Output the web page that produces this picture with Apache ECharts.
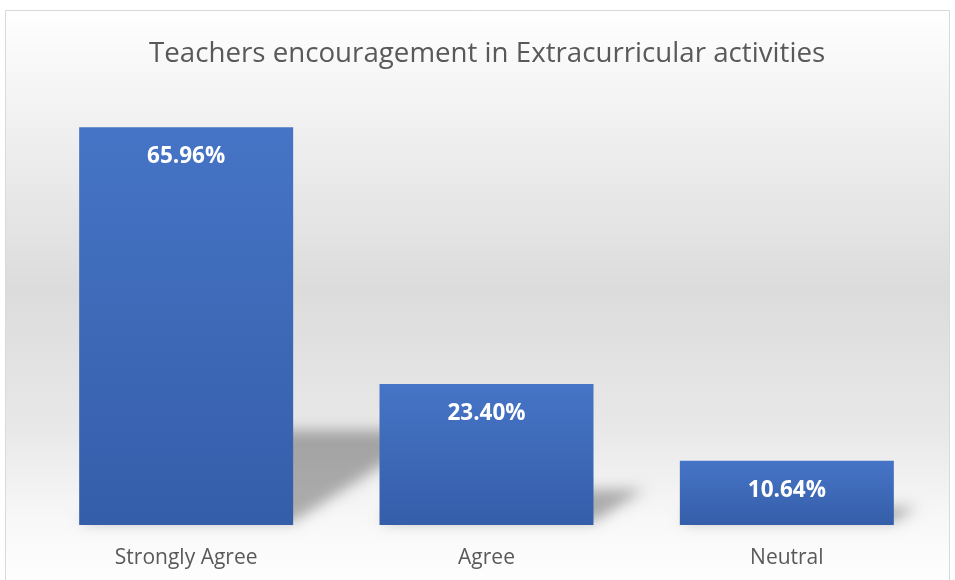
<!DOCTYPE html>
<html>
<head>
<meta charset="utf-8">
<script src="https://cdn.jsdelivr.net/npm/echarts@6/dist/echarts.min.js"></script>
<style>
  html, body { margin: 0; padding: 0; background: #fff; }
  #chart { width: 955px; height: 580px; }
</style>
</head>
<body>
<div id="chart"></div>
<script>
// Teachers encouragement in Extracurricular activities — percentage bars
const categories = ["Strongly Agree", "Agree", "Neutral"];
const percents = [65.96, 23.40, 10.64];
const axisMax = 70;

const chart = echarts.init(document.getElementById("chart"));

// floor shadow behind each bar, projected up-right from the bar base.
// The polygon itself sits off-canvas; only its blurred canvas shadow is shifted back in.
const OFF = 2000;
function shadowItem(params, api) {
  const idx = api.value(0);
  const val = api.value(1);
  const base = api.coord([idx, 0]);
  const top = api.coord([idx, val]);
  const half = 107;
  const h = base[1] - top[1];
  const rise = h * 0.23, run = h * 0.36;
  const x0 = base[0] - half, x1 = base[0] + half, y = base[1] - 3 - OFF;
  return {
    type: "polygon",
    shape: { points: [[x0, y], [x1, y], [x1 + run, y - rise], [x0 + run, y - rise]] },
    style: {
      fill: "#000",
      shadowBlur: 14,
      shadowOffsetY: OFF,
      shadowColor: "rgba(0,0,0,0.3)"
    }
  };
}

chart.setOption({
  animation: false,
  backgroundColor: "#fff",
  graphic: [{
    type: "rect",
    z: -10,
    shape: { x: 5.5, y: 10.5, width: 944, height: 580 },
    style: {
      stroke: "#d9d9d9",
      lineWidth: 1,
      fill: new echarts.graphic.LinearGradient(0, 0, 0, 1, [
        { offset: 0, color: "#ffffff" },
        { offset: 0.12, color: "#f6f6f6" },
        { offset: 0.48, color: "#dcdcdc" },
        { offset: 0.72, color: "#e8e8e8" },
        { offset: 0.88, color: "#f8f8f8" },
        { offset: 1, color: "#ffffff" }
      ])
    }
  }],
  title: {
    text: "Teachers encouragement in Extracurricular activities",
    left: 144,
    top: 35,
    textStyle: { fontFamily: "Open Sans", fontSize: 27.7, fontWeight: "normal", color: "#595959" }
  },
  grid: { left: 36, right: 18, top: 103, bottom: 55 },
  xAxis: {
    type: "category",
    data: categories,
    axisLine: { show: false },
    axisTick: { show: false },
    axisLabel: { margin: 23, fontFamily: "Open Sans", fontSize: 21, color: "#595959" }
  },
  yAxis: { type: "value", min: 0, max: axisMax, show: false, splitLine: { show: false } },
  series: [
    {
      type: "custom",
      z: 1,
      renderItem: shadowItem,
      data: percents.map((v, i) => [i, v]),
      silent: true
    },
    {
      type: "bar",
      z: 2,
      data: percents,
      barWidth: 214,
      itemStyle: {
        color: new echarts.graphic.LinearGradient(0, 0, 0, 1, [
          { offset: 0, color: "#4674c6" },
          { offset: 1, color: "#355ea9" }
        ])
      },
      label: {
        show: true,
        position: "insideTop",
        distance: 18,
        formatter: (p) => p.value.toFixed(2) + "%",
        fontFamily: "Open Sans",
        fontWeight: "bold",
        fontSize: 22.5,
        color: "#ffffff"
      }
    }
  ]
});
</script>
</body>
</html>
